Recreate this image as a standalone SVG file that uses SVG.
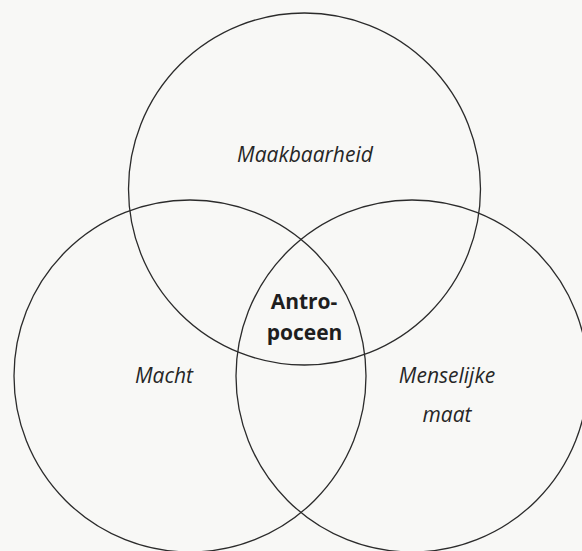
<svg xmlns="http://www.w3.org/2000/svg" width="582" height="551" viewBox="0 0 582 551">
  <style>
    .ring { fill: none; stroke: #2b2b2b; stroke-width: 1.3; }
    .lbl { font-family: "Open Sans", "Liberation Sans", sans-serif; font-style: italic; font-size: 21px; fill: #262626; text-anchor: middle; }
    .core { font-family: "Open Sans", "Liberation Sans", sans-serif; font-weight: bold; font-size: 21px; fill: #1e1e1e; text-anchor: middle; }
  </style>
  <rect x="0" y="0" width="582" height="551" fill="#f8f8f6"/>
  <g id="maakbaarheid">
    <circle class="ring" cx="304.5" cy="189" r="176"/>
    <text class="lbl" x="305" y="162">Maakbaarheid</text>
  </g>
  <g id="macht">
    <circle class="ring" cx="190" cy="376" r="176"/>
    <text class="lbl" x="164" y="383">Macht</text>
  </g>
  <g id="menselijke-maat">
    <circle class="ring" cx="412" cy="376" r="176"/>
    <text class="lbl" x="447" y="383">Menselijke</text>
    <text class="lbl" x="447" y="422">maat</text>
  </g>
  <g id="antropoceen">
    <text class="core" x="304" y="309">Antro-</text>
    <text class="core" x="304.5" y="340">poceen</text>
  </g>
  <g id="connectors"/>
</svg>
